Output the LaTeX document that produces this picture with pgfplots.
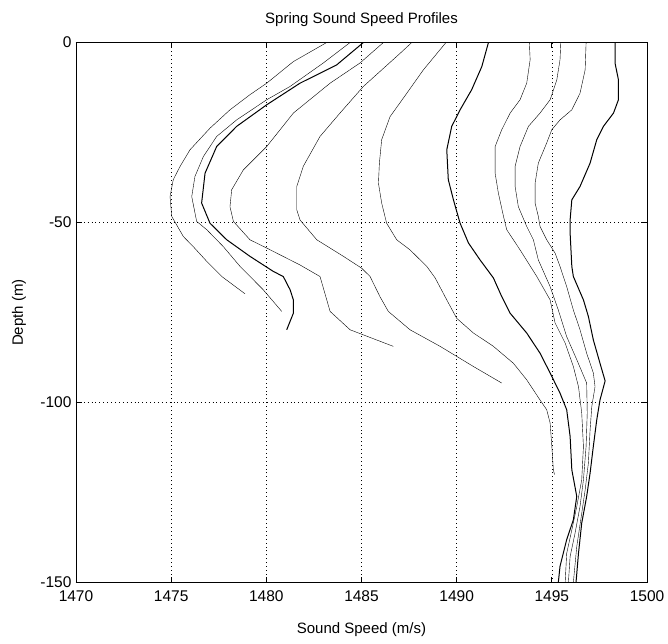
\documentclass[border=0pt]{standalone}
\usepackage{fontspec}
\setmainfont{Liberation Sans}
\usepackage{pgfplots}
\pgfplotsset{compat=1.18}
\begin{document}
\begin{tikzpicture}
\path[use as bounding box] (-76pt,-60.5pt) rectangle (592pt,582.5pt);
\begin{axis}[
  at={(0pt,0pt)}, anchor=south west,
  scale only axis, width=571pt, height=540pt,
  xmin=1470, xmax=1500, ymin=-150, ymax=0,
  xtick={1470,1475,...,1500}, ytick={-150,-100,-50,0},
  tick pos=both, tick align=inside, major tick length=6pt,
  grid=major,
  major grid style={black, line width=0.6pt, dash pattern=on 0.9pt off 3pt},
  axis line style={black, line width=0.9pt},
  tick style={black, line width=0.9pt},
  /pgf/number format/assume math mode=true,
  /pgf/number format/1000 sep={},
  font=\fontsize{15}{18}\selectfont,
  ticklabel style={font=\fontsize{15.5}{18}\selectfont},
  xticklabel style={yshift=-5pt},
  yticklabel style={xshift=-1pt},
  title={Spring Sound Speed Profiles},
  title style={at={(axis description cs:0.5,1.032)}, anchor=center, yshift=0pt, font=\fontsize{15}{18}\selectfont},
  xlabel={Sound Speed (m/s)},
  xlabel style={at={(axis description cs:0.5,-0.087)}, anchor=center},
  ylabel={Depth (m)},
  ylabel style={at={(axis description cs:-0.1,0.5)}, anchor=center},
  cycle list={{black, solid, line width=1pt, mark=none}},
]
\addplot coordinates {(1483.17,0)(1481.42,-5.3)(1480.02,-11.3)(1479.14,-14.5)(1478.09,-18.7)(1477.04,-23.8)(1475.99,-29.8)(1475.47,-34.4)(1475.11,-38.1)(1474.94,-42.8)(1475.03,-48.3)(1475.64,-53.9)(1476.16,-56.7)(1476.87,-60.8)(1477.66,-65)(1478.88,-69.8)};
\addplot coordinates {(1484.40,0)(1482.99,-5.7)(1481.25,-12.2)(1480.02,-15.9)(1478.44,-21.5)(1477.39,-26.1)(1476.69,-31.7)(1476.25,-37.2)(1476.08,-42.8)(1476.34,-49.7)(1476.87,-52)(1477.74,-56.7)(1478.62,-62.2)(1479.84,-68.7)(1480.81,-74.7)};
\addplot coordinates {(1485.10,0)(1483.70,-6.2)(1481.77,-11.3)(1480.02,-17.3)(1478.44,-23.3)(1477.39,-28.9)(1476.78,-36.3)(1476.60,-44.6)(1477.04,-50.2)(1477.92,-54.8)(1479.14,-59.4)(1480.37,-63.6)(1480.89,-65)(1481.25,-68.7)(1481.42,-71.5)(1481.42,-75.2)(1481.07,-79.8)};
\addplot coordinates {(1486.15,0)(1484.92,-5.7)(1483.35,-11.3)(1481.42,-19.6)(1480.02,-28.9)(1478.79,-35.4)(1478.18,-40.9)(1478.09,-45.6)(1478.27,-49.7)(1479.14,-54.8)(1480.02,-57.1)(1481.25,-60.4)(1481.77,-61.8)(1482.82,-65)(1483.35,-74.7)(1484.40,-79.8)(1486.67,-84.4)};
\addplot coordinates {(1487.64,0)(1487.03,-3)(1485.10,-12.2)(1483.87,-19.6)(1482.82,-26.1)(1481.94,-34.4)(1481.60,-40)(1481.6,-46.5)(1481.77,-49.3)(1482.65,-54.8)(1484.05,-59.4)(1485.01,-62.7)(1485.45,-65)(1485.97,-70.6)(1486.41,-74.7)(1487.55,-79.8)(1489.13,-84.4)(1490.88,-90)(1492.37,-94.6)};
\addplot coordinates {(1489.44,0)(1488.25,-7.6)(1487.38,-14.1)(1486.50,-20.6)(1486.06,-27)(1485.94,-33.5)(1485.89,-39.1)(1486.06,-44.6)(1486.32,-50.2)(1486.85,-54.8)(1487.55,-57.6)(1488.43,-62.2)(1488.87,-65.4)(1489.48,-71.5)(1490.0,-76.6)(1490.88,-80.7)(1491.93,-84.4)(1492.98,-89.1)(1493.68,-93.7)(1494.38,-99.3)(1494.73,-102)(1494.91,-105.7)(1495.0,-112.2)(1495.08,-118.7)(1495.14,-120)};
\addplot coordinates {(1491.67,0)(1491.32,-6.7)(1490.79,-13.1)(1490.18,-18.7)(1489.74,-23.3)(1489.48,-29.8)(1489.56,-38.1)(1489.83,-43.7)(1490.18,-50.2)(1490.62,-55.7)(1491.23,-60.4)(1491.93,-65.4)(1492.37,-70.6)(1492.81,-75.2)(1493.68,-80.7)(1494.38,-86.3)(1494.91,-91.8)(1495.43,-97.4)(1495.78,-102)(1495.96,-109.4)(1496.05,-118.7)(1496.31,-126.1)(1496.13,-132.6)(1495.78,-138.1)(1495.43,-145.5)(1495.34,-150)};
\addplot coordinates {(1493.82,0)(1493.86,-4.8)(1493.68,-11.3)(1493.33,-15.9)(1492.81,-19.6)(1492.37,-24.2)(1492.02,-28.9)(1492.02,-36.3)(1492.19,-41.8)(1492.46,-48.3)(1492.63,-52)(1493.33,-57.6)(1494.21,-65)(1494.91,-71.5)(1495.17,-77.9)(1495.70,-83.5)(1496.13,-90)(1496.4,-95.6)(1496.57,-102.9)(1496.66,-112.2)(1496.57,-121.5)(1496.31,-128.9)(1496.05,-135.4)(1495.78,-141.9)(1495.70,-150)};
\addplot coordinates {(1495.47,0)(1495.43,-4.8)(1495.26,-10.4)(1494.91,-15.9)(1494.38,-19.6)(1493.77,-23.3)(1493.33,-28.9)(1493.07,-34.4)(1493.07,-40)(1493.24,-45.6)(1493.68,-51.1)(1494.03,-54.8)(1494.29,-60.4)(1494.91,-67.8)(1495.34,-74.3)(1495.78,-81.7)(1496.31,-88.1)(1496.83,-94.6)(1496.86,-102.9)(1496.8,-112.2)(1496.66,-121.5)(1496.48,-128.9)(1496.22,-136.3)(1495.96,-142.8)(1495.87,-150)};
\addplot coordinates {(1496.80,0)(1496.75,-7.6)(1496.48,-14.1)(1496.05,-18.7)(1495.43,-21.5)(1495.0,-24.2)(1494.73,-27.9)(1494.29,-33.5)(1494.12,-39.1)(1494.12,-44.6)(1494.29,-48.3)(1494.38,-51.1)(1494.73,-54.8)(1495.17,-58.5)(1495.43,-62.2)(1495.78,-67.8)(1496.13,-74.3)(1496.48,-79.8)(1496.83,-86.3)(1497.18,-91.8)(1497.27,-95.6)(1497.1,-101.1)(1497.01,-107.6)(1496.92,-116.8)(1496.75,-124.3)(1496.57,-130.8)(1496.31,-140)(1496.13,-150)};
\addplot coordinates {(1498.32,0)(1498.32,-5.7)(1498.5,-10.4)(1498.5,-15.9)(1498.24,-19.6)(1497.71,-23.3)(1497.36,-27)(1497.01,-33.5)(1496.48,-40)(1496.05,-43.7)(1495.96,-49.3)(1495.96,-52.9)(1496.05,-62.2)(1496.13,-65)(1496.66,-71.5)(1496.92,-76.1)(1497.18,-82.6)(1497.53,-89.1)(1497.8,-94)(1497.53,-99.3)(1497.36,-104.8)(1497.18,-112.2)(1497.01,-119.6)(1496.83,-126.1)(1496.57,-133.5)(1496.40,-141.9)(1496.27,-150)};
\end{axis}
\end{tikzpicture}
\end{document}
